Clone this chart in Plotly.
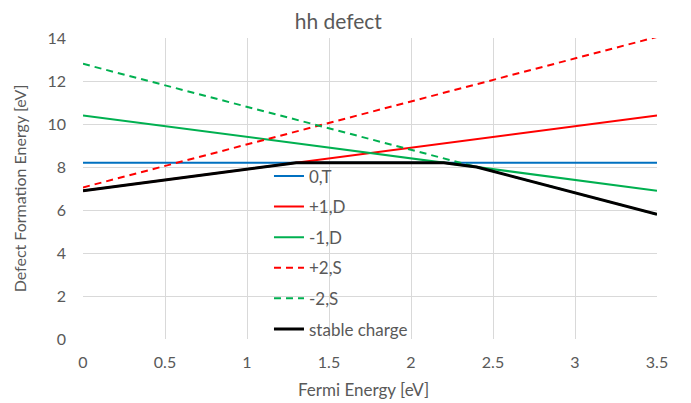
import plotly.graph_objects as go

x_ends = [0, 3.5]
e_0T = [8.2, 8.2]
e_p1D = [6.9, 10.4]
e_m1D = [10.4, 6.9]
e_p2S = [7.05, 14.05]
e_m2S = [12.8, 5.8]
stable_x = [0, 1.3, 2.2, 2.4, 3.5]
stable_y = [6.9, 8.2, 8.2, 8.0, 5.8]

names = ["0,T", "+1,D", "-1,D", "+2,S", "-2,S", "stable charge"]
FONT = "Lato, Carlito, Calibri, sans-serif"
GRAY = "#595959"

fig = go.Figure()
series = [
    (x_ends, e_0T, "#0070C0", 2, "solid"),
    (x_ends, e_p1D, "#FF0000", 2, "solid"),
    (x_ends, e_m1D, "#00B050", 2, "solid"),
    (x_ends, e_p2S, "#FF0000", 2, "7px,5px"),
    (x_ends, e_m2S, "#00B050", 2, "7px,5px"),
    (stable_x, stable_y, "#000000", 3, "solid"),
]
for i, (xs, ys, c, w, d) in enumerate(series):
    fig.add_trace(go.Scatter(x=xs, y=ys, mode="lines", name=names[i],
                             legendgroup=str(i),
                             line=dict(color=c, width=w, dash=d)))

fig.update_layout(
    width=691, height=403,
    margin=dict(l=75, r=42, t=30, b=72, autoexpand=False),
    paper_bgcolor="white", plot_bgcolor="white",
    font=dict(family=FONT, color=GRAY, size=16),
    title=dict(text="hh defect", x=0.478, xanchor="center", y=0.967, yanchor="middle",
               font=dict(size=21, color=GRAY, family=FONT)),
    xaxis=dict(range=[0, 3.5], dtick=0.5, tick0=0, showgrid=True, gridcolor="#D9D9D9",
               gridwidth=1, zeroline=False, showline=False, ticks="",
               tickfont=dict(size=16, color=GRAY), ticklabelstandoff=12),
    yaxis=dict(range=[0, 14], dtick=2, tick0=0, showgrid=True, gridcolor="#D9D9D9",
               gridwidth=1, zeroline=False, showline=False, ticks="",
               tickfont=dict(size=16, color=GRAY), ticklabelstandoff=16,
               title=dict(text="Defect Formation Energy [eV]", font=dict(size=16, color=GRAY), standoff=16)),
    legend=dict(x=0.324, y=0.60, xanchor="left", yanchor="top", bgcolor="rgba(0,0,0,0)",
                font=dict(size=17, color=GRAY, family=FONT), traceorder="grouped",
                tracegroupgap=5.5, itemwidth=30),
    showlegend=True,
    annotations=[dict(text="Fermi Energy [eV]", xref="paper", yref="paper", x=0.488, y=0,
                      xanchor="center", yanchor="middle", yshift=-50, showarrow=False,
                      font=dict(size=17, color=GRAY, family=FONT))],
)
fig.write_html("out.html")
